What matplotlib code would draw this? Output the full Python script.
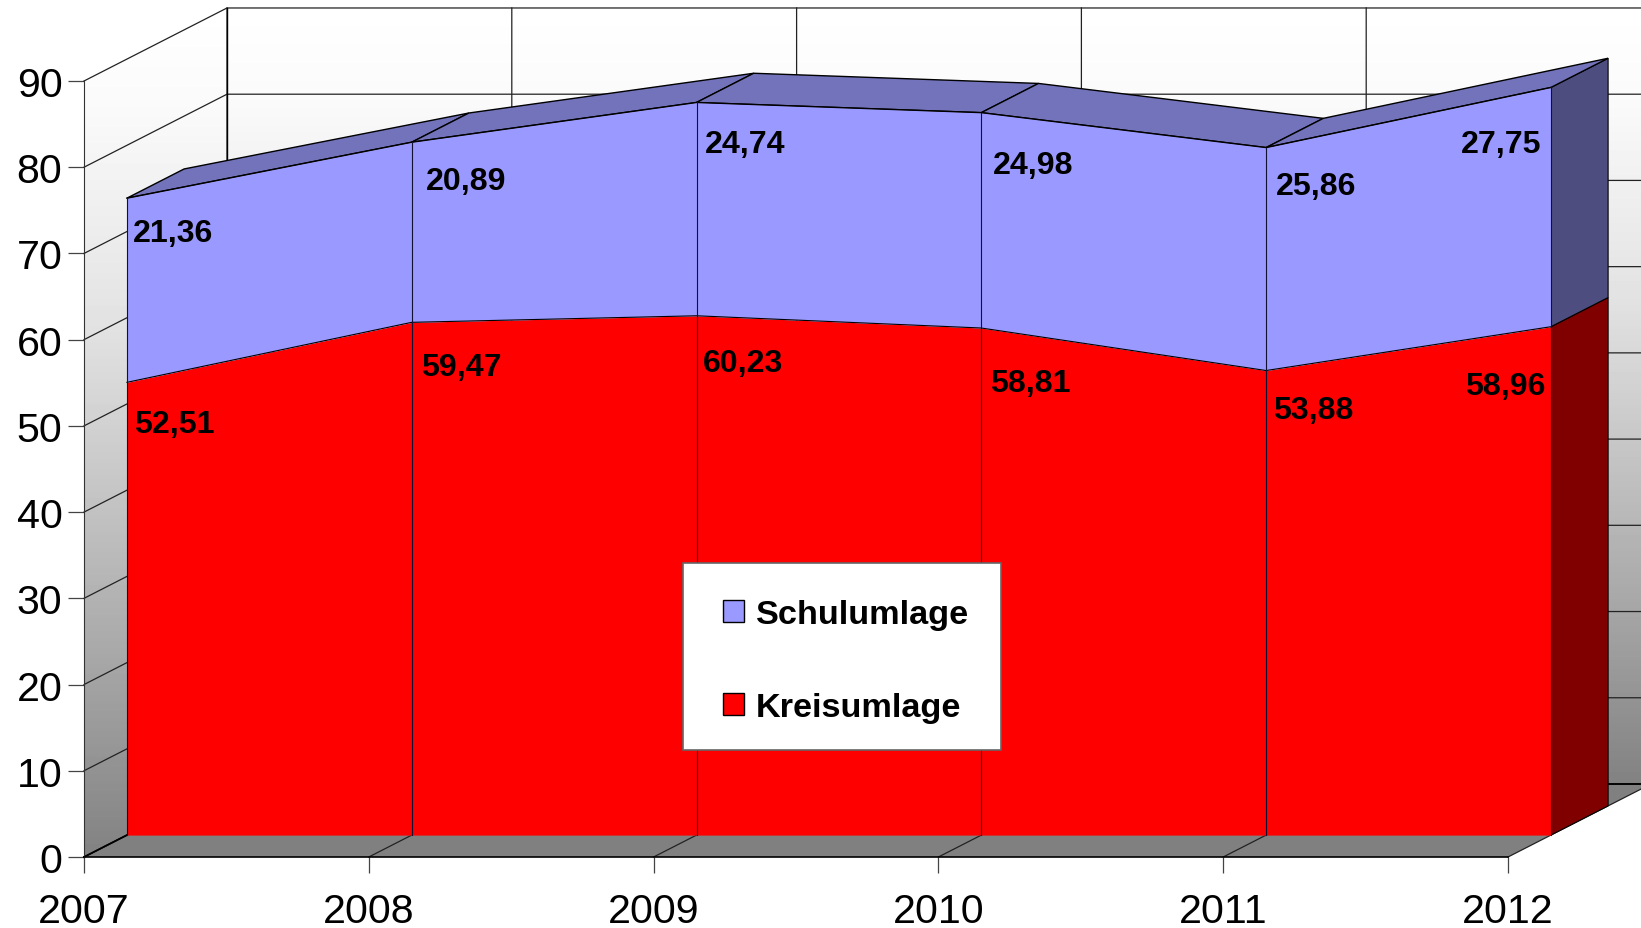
#Schulumlage und Kreisumlage 2007-2012, stacked area chart with fake 3D look

from matplotlib import pyplot as plt
from matplotlib.patches import Polygon, Patch, Rectangle
import numpy as np

years = ["2007", "2008", "2009", "2010", "2011", "2012"]
kreisumlage = [52.51, 59.47, 60.23, 58.81, 53.88, 58.96]
schulumlage = [21.36, 20.89, 24.74, 24.98, 25.86, 27.75]
kreis_labels = ["52,51", "59,47", "60,23", "58,81", "53,88", "58,96"]
schul_labels = ["21,36", "20,89", "24,74", "24,98", "25,86", "27,75"]
y_ticks = [0, 10, 20, 30, 40, 50, 60, 70, 80, 90]

# label offsets from the front corner of each area, in pixels
schul_off_x = [46, 54, 49, 52, 50, -50]
schul_off_y = [-35, -39, -42, -52, -38, -57]
kreis_off_x = [47, 50, 46, 49, 47, -46]
kreis_off_y = [-42, -45, -47, -55, -39, -59]

DEPTH_X = 143 / 284.8
DEPTH_Y = 73 / 8.62
FRONT = 0.3
BACK = 0.7


def project(x, y, d):
    return (x + d * DEPTH_X, y + d * DEPTH_Y)


plt.rcParams['font.family'] = ['Liberation Sans', 'DejaVu Sans']

fig = plt.figure(figsize=(16.41, 9.29), dpi=100)
ax = fig.add_axes([84 / 1641, 71 / 929, 1424 / 1641, 776 / 929])
ax.patch.set_visible(False)

n = len(years)
xs = np.arange(n)
kreis = np.array(kreisumlage)
total = kreis + np.array(schulumlage)

# walls with the white to grey gradient, stays light near the top
grad = np.interp(np.linspace(0, 1, 256), [0, 0.119, 0.376, 0.505, 0.763, 1],
                 [1, 0.98, 0.886, 0.812, 0.659, 0.51]).reshape(-1, 1)
back_wall = Polygon([project(0, 0, 1), project(6, 0, 1), project(6, 90, 1), project(0, 90, 1)],
                    transform=ax.transData, fill=False, edgecolor="none")
left_wall = Polygon([project(0, 0, 0), project(0, 0, 1), project(0, 90, 1), project(0, 90, 0)],
                    transform=ax.transData, fill=False, edgecolor="none")
for wall, low in ((back_wall, DEPTH_Y), (left_wall, 0)):
    im = ax.imshow(grad, cmap="gray", vmin=0, vmax=1, aspect="auto", zorder=0,
                   extent=(-1, 7, low, 90 + DEPTH_Y))
    im.set_clip_box(fig.bbox)
    im.set_clip_path(wall)

# floor
ax.add_patch(Polygon([project(0, 0, 0), project(5, 0, 0), project(5, 0, 1), project(0, 0, 1)],
                     facecolor="#808080", edgecolor="none", clip_on=False, zorder=1))

# grid on walls and floor
for v in y_ticks:
    p0 = project(0, v, 0)
    p1 = project(0, v, 1)
    p2 = project(6, v, 1)
    ax.plot([p0[0], p1[0], p2[0]], [p0[1], p1[1], p2[1]], color="#222222", lw=0.9,
            clip_on=False, zorder=2, solid_joinstyle="miter")
for i in xs:
    p0 = project(i, 0, 0)
    p1 = project(i, 0, 1)
    p2 = project(i, 90, 1)
    ax.plot([p0[0], p1[0], p2[0]], [p0[1], p1[1], p2[1]], color="#222222", lw=0.9,
            clip_on=False, zorder=2)
p0 = project(0, 0, 1)
p1 = project(0, 90, 1)
ax.plot([p0[0], p1[0]], [p0[1], p1[1]], color="black", lw=1, clip_on=False, zorder=2)
p0 = project(0, 0, 1)
p1 = project(6, 0, 1)
ax.plot([p0[0], p1[0]], [p0[1], p1[1]], color="black", lw=1.3, clip_on=False, zorder=2)
p0 = project(0, 0, 0)
p1 = project(0, 0, FRONT)
ax.plot([p0[0], p1[0]], [p0[1], p1[1]], color="black", lw=1.3, clip_on=False, zorder=2)

# right side faces of the areas
ax.add_patch(Polygon([project(5, 0, FRONT), project(5, kreis[-1], FRONT),
                      project(5, kreis[-1], BACK), project(5, 0, BACK)],
                     facecolor="#800000", edgecolor="black", lw=0.8, clip_on=False, zorder=3))
ax.add_patch(Polygon([project(5, kreis[-1], FRONT), project(5, total[-1], FRONT),
                      project(5, total[-1], BACK), project(5, kreis[-1], BACK)],
                     facecolor="#4d4d80", edgecolor="black", lw=0.8, clip_on=False, zorder=3))

# top face
for i in range(n - 1):
    ax.add_patch(Polygon([project(i, total[i], FRONT), project(i + 1, total[i + 1], FRONT),
                          project(i + 1, total[i + 1], BACK), project(i, total[i], BACK)],
                         facecolor="#7373bb", edgecolor="black", lw=1, clip_on=False, zorder=3))

# front faces
front_x = xs + FRONT * DEPTH_X
ax.fill_between(front_x, 0 + FRONT * DEPTH_Y, kreis + FRONT * DEPTH_Y, color="#ff0000", lw=0,
                clip_on=False, zorder=4)
ax.fill_between(front_x, kreis + FRONT * DEPTH_Y, total + FRONT * DEPTH_Y, color="#9999ff", lw=0,
                clip_on=False, zorder=4)
ax.plot(front_x, kreis + FRONT * DEPTH_Y, color="black", lw=0.8, clip_on=False, zorder=5)
ax.plot(front_x, total + FRONT * DEPTH_Y, color="black", lw=1, clip_on=False, zorder=5)
for i in xs:
    ax.plot([front_x[i], front_x[i]], [FRONT * DEPTH_Y, total[i] + FRONT * DEPTH_Y],
            color="#111133", lw=0.8, clip_on=False, zorder=5)

# value labels
for i in xs:
    ax.annotate(schul_labels[i], (front_x[i], total[i] + FRONT * DEPTH_Y),
                xytext=(schul_off_x[i] * 0.72, schul_off_y[i] * 0.72), textcoords="offset points",
                ha="center", va="center", fontsize=23.1, fontweight="bold", color="black",
                annotation_clip=False, zorder=6)
    ax.annotate(kreis_labels[i], (front_x[i], kreis[i] + FRONT * DEPTH_Y),
                xytext=(kreis_off_x[i] * 0.72, kreis_off_y[i] * 0.72), textcoords="offset points",
                ha="center", va="center", fontsize=23.1, fontweight="bold", color="black",
                annotation_clip=False, zorder=6)

# axes
ax.set_xlim(0, 5)
ax.set_ylim(0, 90)
ax.set_xticks(xs, years)
ax.set_yticks(y_ticks)
ax.tick_params(axis="x", length=11.5, width=0.9, color="#444444", labelsize=29.6, pad=13.5)
ax.tick_params(axis="y", length=11.5, width=0.9, color="#444444", labelsize=29.6, pad=4)
ax.spines["top"].set_visible(False)
ax.spines["right"].set_visible(False)
ax.spines["left"].set_color("#333333")
ax.spines["bottom"].set_color("black")
ax.spines["bottom"].set_linewidth(1.2)

# legend box drawn separately, its padding differs per side
ax.add_patch(Rectangle((2.103, 12.41), 1.117, 21.7, facecolor="white", edgecolor="#666666",
                       lw=1.2, clip_on=False, zorder=9))
handles = [Patch(facecolor="#9999ff", edgecolor="black", lw=1),
           Patch(facecolor="#ff0000", edgecolor="black", lw=1)]
leg = ax.legend(handles, ["Schulumlage", "Kreisumlage"], loc="center",
                bbox_to_anchor=(2.675, 22.75), bbox_transform=ax.transData,
                prop={"weight": "bold", "size": 24.7}, frameon=False,
                handlelength=0.62, handleheight=0.62,
                handletextpad=0.33, labelspacing=1.8, borderpad=0)
leg.set_zorder(10)

fig.savefig("out.png", dpi=100)
